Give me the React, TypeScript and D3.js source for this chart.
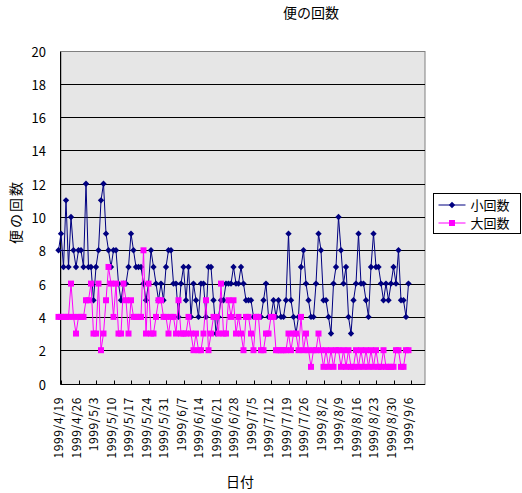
import { useEffect, useRef } from "react";
import * as d3 from "d3";

// 1999/4/19 .. 1999/9/12, one category per day
const dayCount = 147;
const tickLabels = [
  "1999/4/19", "1999/4/26", "1999/5/3", "1999/5/10", "1999/5/17", "1999/5/24",
  "1999/5/31", "1999/6/7", "1999/6/14", "1999/6/21", "1999/6/28", "1999/7/5",
  "1999/7/12", "1999/7/19", "1999/7/26", "1999/8/2", "1999/8/9", "1999/8/16",
  "1999/8/23", "1999/8/30", "1999/9/6",
];
const yTicks = [0, 2, 4, 6, 8, 10, 12, 14, 16, 18, 20];

// 小回数
const smallCounts = [
  8, 9, 7, 11, 7, 10, 8, 7, 8, 8, 7, 12, 7, 7, 5, 7, 8, 11, 12, 9,
  8, 7, 8, 8, 6, 5, 6, 6, 7, 9, 8, 7, 7, 7, 6, 5,
  6, 8, 7, 6, 5, 6, 5, 7, 8, 8, 6, 6, 4, 6, 7, 5, 7, 4, 6, 5,
  4, 6, 6, 4, 7, 7, 5, 3, 4, 5, 5, 6, 6, 6, 7, 6, 6,
  7, 6, 5, 5, 5, 4, 4, 4, 4, 5, 6, 4, 4, 5, 4, 5, 4, 4, 5, 9,
  5, 4, 3, 4, 7, 8, 6, 5, 4, 4, 6, 9, 8, 5,
  5, 4, 3, 6, 7, 10, 8, 6, 7, 4, 3, 5, 6, 9, 6, 6, 5, 4, 7, 9,
  7, 7, 6, 5, 6, 5, 6, 7, 6, 8, 5, 5, 4, 6,
];

// 大回数
const largeCounts = [
  4, 4, 4, 4, 4, 6, 4, 3, 4, 4, 4, 5, 5, 6, 3, 3, 6, 2, 3, 5,
  7, 6, 4, 6, 3, 3, 6, 5, 3, 5, 4, 4, 4, 4, 8, 3,
  6, 3, 3, 4, 5, 5, 4, 4, 3, 4, 4, 3, 5, 3, 3, 3, 4, 3, 2, 3,
  2, 2, 3, 5, 2, 3, 4, 4, 3, 6, 3, 3, 5, 4, 5, 3, 4,
  3, 2, 4, 4, 3, 2, 4, 4, 2, 2, 3, 3, 4, 4, 2, 2, 2, 2, 2, 3,
  2, 3, 3, 2, 4, 2, 3, 2, 1, 2, 2, 3, 2, 1,
  2, 1, 2, 1, 2, 2, 1, 2, 1, 2, 1, 1, 2, 1, 2, 1, 2, 1, 2, 1,
  2, 1, 1, 2, 1, 1, 1, 1, 2, 2, 1, 1, 2, 2,
];

const FONT = "'Noto Sans CJK JP', sans-serif";
const NAVY = "#000080";
const MAGENTA = "#ff00ff";

export default function App() {
  const svgRef = useRef<SVGSVGElement>(null);

  useEffect(() => {
    if (!svgRef.current) return;
    const svg = d3.select(svgRef.current);
    svg.selectAll("*").remove();

    const plotLeft = 61;
    const plotRight = 425;
    const x = d3.scaleLinear().domain([0, dayCount - 1]).range([58.5, 423.5]);
    const y = d3.scaleLinear().domain([0, 20]).range([383.5, 50.5]);
    const cy = (v: number) => Math.round(y(v)) + 0.5;

    // plot area
    svg.append("rect")
      .attr("x", plotLeft).attr("y", cy(20))
      .attr("width", plotRight - plotLeft).attr("height", cy(0) - cy(20))
      .attr("fill", "#e6e6e6")
      .attr("stroke", "#808080");

    // gridlines
    yTicks.filter((v) => v > 0 && v < 20).forEach((v) => {
      svg.append("line")
        .attr("x1", plotLeft).attr("x2", plotRight)
        .attr("y1", cy(v)).attr("y2", cy(v))
        .attr("stroke", "#000").attr("stroke-width", 1);
    });

    // axes
    svg.append("line")
      .attr("x1", plotLeft - 0.5).attr("x2", plotLeft - 0.5)
      .attr("y1", cy(20)).attr("y2", cy(0))
      .attr("stroke", "#000");
    svg.append("line")
      .attr("x1", plotLeft - 0.5).attr("x2", plotRight)
      .attr("y1", cy(0)).attr("y2", cy(0))
      .attr("stroke", "#000");

    // y tick labels
    yTicks.forEach((v) => {
      svg.append("text")
        .attr("x", 46).attr("y", cy(v) + 5)
        .attr("text-anchor", "end")
        .attr("font-family", FONT).attr("font-size", 13)
        .text(String(v));
    });

    // x ticks (weekly) and rotated labels
    tickLabels.forEach((label, k) => {
      const tx = Math.round(x(k * 7 + 1)) + 0.5;
      svg.append("line")
        .attr("x1", tx).attr("x2", tx)
        .attr("y1", cy(0) - 4).attr("y2", cy(0))
        .attr("stroke", "#000");
      const lx = x(k * 7) + 4.5;
      svg.append("text")
        .attr("transform", `translate(${lx},397) rotate(-90)`)
        .attr("text-anchor", "end")
        .attr("font-family", FONT).attr("font-size", 12)
        .attr("letter-spacing", 0.6)
        .text(label);
    });

    const line = d3.line<number>()
      .x((_, i) => x(i))
      .y((d) => y(d));

    // 小回数
    svg.append("path")
      .datum(smallCounts)
      .attr("fill", "none").attr("stroke", NAVY).attr("stroke-width", 1)
      .attr("d", line);
    const diamond = d3.symbol().type(d3.symbolDiamond2).size(26);
    svg.selectAll("path.small")
      .data(smallCounts)
      .enter()
      .append("path")
      .attr("class", "small")
      .attr("transform", (d, i) => `translate(${x(i)},${y(d)})`)
      .attr("d", diamond)
      .attr("fill", NAVY);

    // 大回数
    svg.append("path")
      .datum(largeCounts)
      .attr("fill", "none").attr("stroke", MAGENTA).attr("stroke-width", 1)
      .attr("d", line);
    svg.selectAll("rect.large")
      .data(largeCounts)
      .enter()
      .append("rect")
      .attr("class", "large")
      .attr("x", (_, i) => x(i) - 3)
      .attr("y", (d) => y(d) - 3)
      .attr("width", 6).attr("height", 6)
      .attr("fill", MAGENTA);

    // titles
    svg.append("text")
      .attr("x", 311).attr("y", 18)
      .attr("text-anchor", "middle")
      .attr("font-family", FONT).attr("font-size", 14)
      .text("便の回数");
    svg.append("text")
      .attr("transform", "translate(21,212) rotate(-90)")
      .attr("text-anchor", "middle")
      .attr("font-family", FONT).attr("font-size", 14)
      .attr("letter-spacing", 2)
      .text("便の回数");
    svg.append("text")
      .attr("x", 240).attr("y", 487)
      .attr("text-anchor", "middle")
      .attr("font-family", FONT).attr("font-size", 14)
      .text("日付");

    // legend
    const lg = svg.append("g").attr("transform", "translate(433.5,193.5)");
    lg.append("rect")
      .attr("width", 87).attr("height", 40)
      .attr("fill", "#fff").attr("stroke", "#000");
    const entries = [
      { name: "小回数", color: NAVY, square: false },
      { name: "大回数", color: MAGENTA, square: true },
    ];
    entries.forEach((e, i) => {
      const ly = 11.5 + i * 18;
      lg.append("line")
        .attr("x1", 5).attr("x2", 32)
        .attr("y1", ly).attr("y2", ly)
        .attr("stroke", e.color);
      if (e.square) {
        lg.append("rect")
          .attr("x", 15.5).attr("y", ly - 3).attr("width", 6).attr("height", 6)
          .attr("fill", e.color);
      } else {
        lg.append("path")
          .attr("transform", `translate(18.5,${ly})`)
          .attr("d", diamond)
          .attr("fill", e.color);
      }
      lg.append("text")
        .attr("x", 37).attr("y", ly + 4.5)
        .attr("font-family", FONT).attr("font-size", 13)
        .text(e.name);
    });
  }, []);

  return (
    <svg
      ref={svgRef}
      width={522}
      height={493}
      style={{ position: "absolute", left: 0, top: 0, background: "#fff" }}
    />
  );
}
